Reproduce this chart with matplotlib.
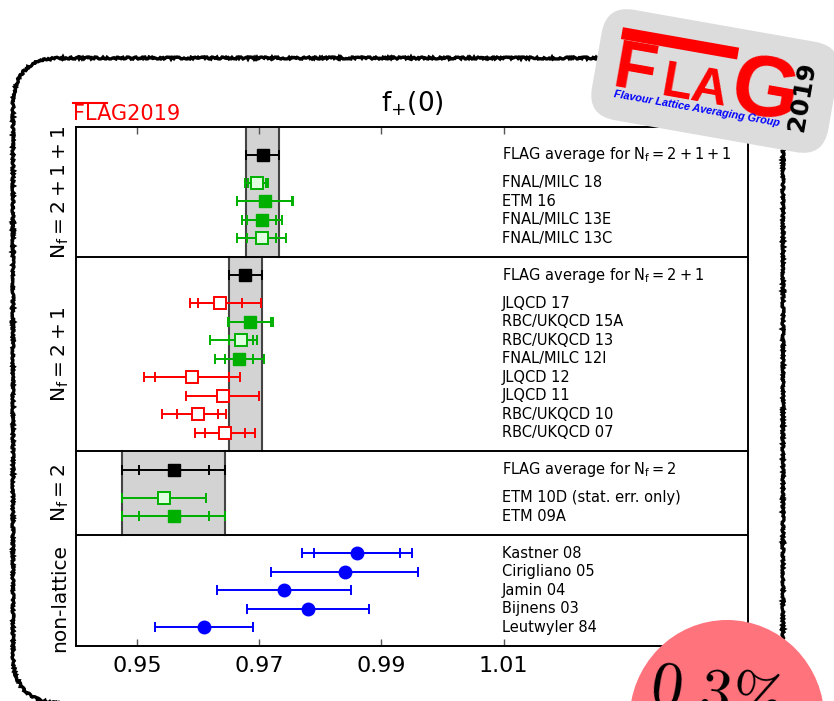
import matplotlib
matplotlib.use('Agg')
import matplotlib.pyplot as plt
from matplotlib.patches import FancyBboxPatch, Rectangle, Ellipse
from matplotlib.lines import Line2D
from matplotlib.transforms import Affine2D, IdentityTransform, blended_transform_factory

plt.rcParams['font.family'] = ['DejaVu Sans']
plt.rcParams['mathtext.fontset'] = 'dejavusans'

# f+(0) results, one row per collaboration
labels = ['FNAL/MILC 18', 'ETM 16', 'FNAL/MILC 13E', 'FNAL/MILC 13C',
          'JLQCD 17', 'RBC/UKQCD 15A', 'RBC/UKQCD 13', 'FNAL/MILC 12I',
          'JLQCD 12', 'JLQCD 11', 'RBC/UKQCD 10', 'RBC/UKQCD 07',
          'ETM 10D (stat. err. only)', 'ETM 09A',
          'Kastner 08', 'Cirigliano 05', 'Jamin 04', 'Bijnens 03', 'Leutwyler 84']
rows = [25, 24, 23, 22,
        18.5, 17.5, 16.5, 15.5, 14.5, 13.5, 12.5, 11.5,
        8, 7,
        5, 4, 3, 2, 1]
values = [0.9696, 0.9709, 0.9704, 0.9704,
          0.9636, 0.9685, 0.9670, 0.9667, 0.9590, 0.9640, 0.9599, 0.9644,
          0.9544, 0.9560,
          0.9860, 0.9840, 0.9740, 0.9780, 0.9610]
stat_err = [0.0015, 0.0045, 0.0024, 0.0024,
            0.0036, 0.0034, 0.0020, 0.0023, 0.0060, 0.0060, 0.0034, 0.0033,
            0.0068, 0.0057,
            0.0071, 0.0120, 0.0110, 0.0100, 0.0080]
err_minus = [0.0019, 0.0046, 0.0033, 0.0040,
             0.0050, 0.0037, 0.0050, 0.0040, 0.0078, 0.0060, 0.0058, 0.0049,
             0.0068, 0.0084,
             0.0090, 0.0120, 0.0110, 0.0100, 0.0080]
err_plus = [0.0019, 0.0046, 0.0033, 0.0040,
            0.0067, 0.0037, 0.0027, 0.0040, 0.0078, 0.0060, 0.0046, 0.0049,
            0.0068, 0.0084,
            0.0090, 0.0120, 0.0110, 0.0100, 0.0080]
colors = ['g', 'g', 'g', 'g',
          'r', 'g', 'g', 'g', 'r', 'r', 'r', 'r',
          'g', 'g',
          'b', 'b', 'b', 'b', 'b']
styles = ['open', 'filled', 'filled', 'open',
          'open', 'filled', 'open', 'filled', 'open', 'open', 'open', 'open',
          'open', 'filled',
          'circle', 'circle', 'circle', 'circle', 'circle']

# FLAG averages per Nf
avg_labels = [r'FLAG average for $\mathrm{N_f=2+1+1}$',
              r'FLAG average for $\mathrm{N_f=2+1}$',
              r'FLAG average for $\mathrm{N_f=2}$']
avg_rows = [26.5, 20, 9.5]
avg_values = [0.9706, 0.9677, 0.9560]
avg_stat = [0.0027, 0.0027, 0.0057]
avg_err = [0.0027, 0.0027, 0.0084]
avg_spans = [(21, 28), (10.5, 21), (6, 10.5)]

separators = [6, 10.5, 21]
group_labels = [r'$\mathrm{N_f=2+1+1}$', r'$\mathrm{N_f=2+1}$', r'$\mathrm{N_f=2}$', 'non-lattice']
group_rows = [24.5, 15.75, 8.25, 2.6]

ticks = [0.95, 0.97, 0.99, 1.01]

green = '#00b000'
cmap = {'g': green, 'r': '#ff0000', 'b': '#0000ff'}
W, H = 834, 701

fig = plt.figure(figsize=(W / 100, H / 100), dpi=100)
fig.patch.set_facecolor('white')
ax = fig.add_axes([76 / W, 55 / H, 672 / W, 519 / H])

# grey bands for the averages
for v, e, (y0, y1) in zip(avg_values, avg_err, avg_spans):
    ax.add_patch(Rectangle((v - e, y0), 2 * e, y1 - y0, facecolor='#d3d3d3',
                           edgecolor='none', zorder=1))
    ax.plot([v - e, v - e], [y0, y1], color='#444444', lw=1.5, zorder=2)
    ax.plot([v + e, v + e], [y0, y1], color='#444444', lw=1.5, zorder=2)

for y in separators:
    ax.axhline(y, color='black', lw=1.4, zorder=3)

def draw_point(v, y, s, lo, hi, c, style):
    ax.errorbar(v, y, xerr=[[lo], [hi]], fmt='none', ecolor=c, elinewidth=1.4,
                capsize=3.5, capthick=1.4, zorder=4)
    if abs(s - lo) > 1e-6 or abs(s - hi) > 1e-6:
        ax.errorbar(v, y, xerr=s, fmt='none', ecolor=c, elinewidth=1.4,
                    capsize=3.5, capthick=1.4, zorder=4)
    if style == 'circle':
        ax.plot(v, y, 'o', color=c, markersize=9, zorder=5)
    elif style == 'filled':
        ax.plot(v, y, 's', color=c, markersize=9, zorder=5)
    else:
        face = '#e0ffe0' if c == green else 'white'
        ax.plot(v, y, 's', markerfacecolor=face, markeredgecolor=c,
                markeredgewidth=1.4, markersize=9, zorder=5)

for v, y, s, lo, hi, c, st in zip(values, rows, stat_err, err_minus, err_plus, colors, styles):
    draw_point(v, y, s, lo, hi, cmap[c], st)

for v, y, s, e in zip(avg_values, avg_rows, avg_stat, avg_err):
    draw_point(v, y, s, e, e, 'black', 'filled')

# names on the right
for name, y in zip(labels, rows):
    ax.text(1.0097, y, name, fontsize=10.5, va='center', ha='left')
for name, y in zip(avg_labels, avg_rows):
    ax.text(1.0097, y, name, fontsize=10.5, va='center', ha='left')

# group labels on the left
trans = blended_transform_factory(ax.transAxes, ax.transData)
for name, y in zip(group_labels, group_rows):
    ax.text(-0.024, y, name, transform=trans, rotation=90, fontsize=14.5,
            ha='center', va='center')

ax.set_xlim(0.94, 1.05)
ax.set_ylim(0, 28)
ax.set_xticks(ticks)
ax.set_xticklabels(['%.2f' % t for t in ticks])
ax.set_yticks([])
ax.tick_params(axis='x', direction='in', top=True, length=5, width=1,
               labelsize=16, pad=7, color='#555555')
for sp in ax.spines.values():
    sp.set_linewidth(1.4)

ax.text(0.5, 1.03, r'$\mathrm{f}_{+}(0)$', transform=ax.transAxes, fontsize=19,
        ha='center', va='baseline')
ax.text(-0.0045, 1.0135, 'FLAG2019', transform=ax.transAxes, fontsize=15,
        color='red', ha='left', va='baseline')
ax.add_line(Line2D([-0.0045, 0.046], [1.046, 1.046], transform=ax.transAxes,
                   color='red', lw=1.5, clip_on=False))

# hand-drawn rounded frame
frame = FancyBboxPatch((13, -2), 770, 645, boxstyle='round,pad=0,rounding_size=48',
                       transform=IdentityTransform(), fill=False, ec='black', lw=2.4,
                       zorder=0.5)
frame.set_sketch_params(1.0, 3, 6)
fig.add_artist(frame)

# FLAG logo badge
tr = Affine2D().rotate_deg(-10).translate(715, 620)
fig.add_artist(FancyBboxPatch((-120, -56), 240, 112,
                              boxstyle='round,pad=0,rounding_size=28',
                              transform=tr, facecolor='#dcdcdc', edgecolor='none',
                              zorder=6))
fig.add_artist(Rectangle((-100, 25), 118, 12, transform=tr, facecolor='red',
                         edgecolor='none', zorder=7))

def logo_text(lx, ly, s, rot=0, **kw):
    x, y = tr.transform((lx, ly))
    fig.text(x, y, s, transform=IdentityTransform(), rotation=-10 + rot,
             rotation_mode='anchor', zorder=8, **kw)

logo_text(-102, -23, 'F', fontsize=50, color='red', fontweight='bold',
          family='Liberation Sans', ha='left', va='baseline')
logo_text(-52, -23, 'LA', fontsize=36, color='red', fontweight='bold',
          family='Liberation Sans', ha='left', va='baseline')
logo_text(17, -26, 'G', fontsize=62, color='red', fontweight='bold',
          family='Liberation Sans', ha='left', va='baseline')
logo_text(-13, -30, 'Flavour Lattice Averaging Group', fontsize=7.8, color='blue',
          fontweight='bold', fontstyle='italic', family='Liberation Sans',
          ha='center', va='center')
logo_text(88, 0, '2019', rot=90, fontsize=18, color='black', fontweight='bold',
          ha='center', va='center')

# precision badge
fig.add_artist(Ellipse((727, -19), 195, 200, transform=IdentityTransform(),
                       facecolor='#ff737d', edgecolor='none', zorder=6))
fig.text(648, -3, r'$0.3\%$', transform=IdentityTransform(), fontsize=46,
         math_fontfamily='cm', rotation=-8, rotation_mode='anchor',
         ha='left', va='baseline', zorder=8)

fig.savefig('out.png', dpi=100)
